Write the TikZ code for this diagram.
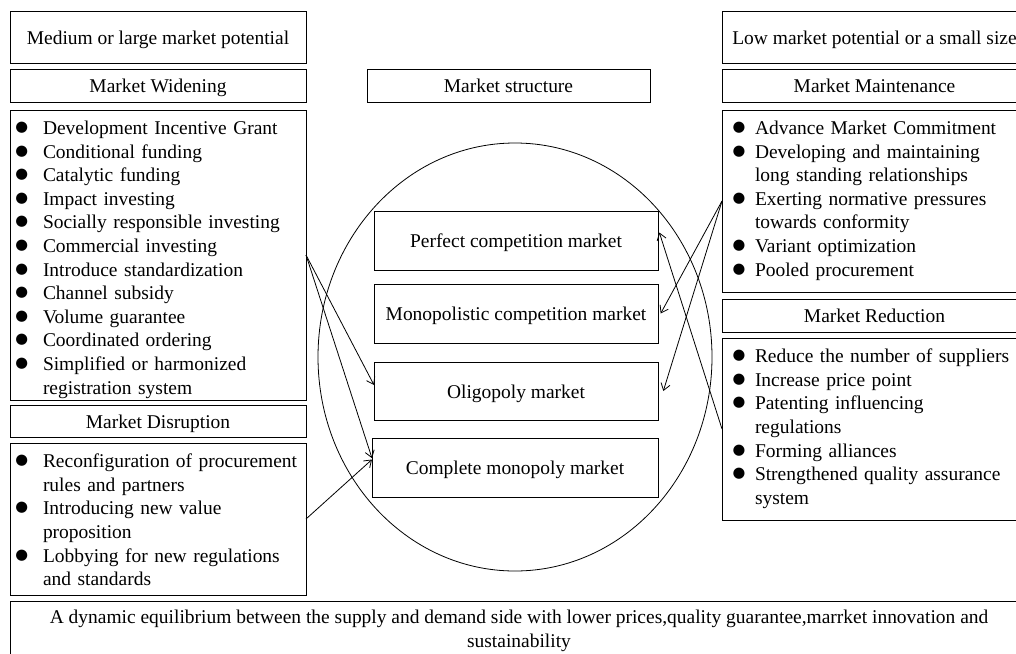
\documentclass[tikz,border=0pt]{standalone}
\usepackage{fontspec}
\setmainfont{Liberation Serif}
\newfontfamily\symfont{DejaVu Sans}
\usetikzlibrary{arrows.meta,shapes.geometric}
\newlength\bulletoff
\setlength\bulletoff{4.5pt}
\newcommand\bitem[1]{\noindent\hangindent=24.75pt\hangafter=1\makebox[24.75pt][l]{\hspace{\bulletoff}\raisebox{2.3pt}{\symfont\fontsize{11}{11}\selectfont ●}}#1\par}
\newcommand\hstrut{\vrule height 13.7pt depth 3.2pt width 0pt}
\tikzset{
  every node/.style={font=\fontsize{14.6}{17.7}\selectfont, text=black},
  bx/.style 2 args={draw, line width=0.6pt, anchor=north west, minimum width=#1*0.75pt, minimum height=#2*0.75pt, inner sep=0pt, outer sep=0pt, align=center},
  lst/.style={anchor=north west, inner sep=0pt, outer sep=0pt, text width=#1*0.75pt, align=left},
  arr/.style={draw, line width=0.6pt, -{Straight Barb[length=5pt,width=7pt]}}
}
\begin{document}
\begin{tikzpicture}[x=0.75pt,y=-0.75pt]
\useasboundingbox (0,0) rectangle (1016,653);
\clip (0,0) rectangle (1016,653);
% header boxes
\node[bx={296}{52}] (tl) at (10,11) {\hstrut Medium or large market potential};
\node[bx={305}{52}] (tr) at (722,11) {\hstrut Low market potential or a small size};
\node[bx={296}{33}] (mw) at (10,69) {\hstrut Market Widening};
\node[bx={283}{33}] (ms) at (367,69) {\hstrut Market structure};
\node[bx={305}{33}] (mm) at (722,69) {\hstrut Market Maintenance};
% lists
\node[bx={296}{290}] (wl) at (10,110) {};
\node[lst=290] (wlt) at (10,121) {%
\setlength\bulletoff{4pt}%
\bitem{Development Incentive Grant}
\bitem{Conditional funding}
\bitem{Catalytic funding}
\bitem{Impact investing}
\bitem{Socially responsible investing}
\bitem{Commercial investing}
\bitem{Introduce standardization}
\bitem{Channel subsidy}
\bitem{Volume guarantee}
\bitem{Coordinated ordering}
\bitem{Simplified or harmonized\newline registration system}};
\node[bx={296}{32}] (md) at (10,405) {\hstrut Market Disruption};
\node[bx={296}{152}] (dl) at (10,443) {};
\node[lst=290] (dlt) at (10,454) {%
\setlength\bulletoff{4pt}%
\bitem{Reconfiguration of procurement\newline rules and partners}
\bitem{Introducing new value\newline proposition}
\bitem{Lobbying for new regulations\newline and standards}};
\node[bx={305}{182}] (ml) at (722,110) {};
\node[lst=300] (mlt) at (722,121) {%
\setlength\bulletoff{8pt}%
\bitem{Advance Market Commitment}
\bitem{Developing and maintaining\newline long standing relationships}
\bitem{Exerting normative pressures\newline towards conformity}
\bitem{Variant optimization}
\bitem{Pooled procurement}};
\node[bx={305}{33}] (mr) at (722,299) {\hstrut Market Reduction};
\node[bx={305}{182}] (rl) at (722,338) {};
\node[lst=300] (rlt) at (722,349) {%
\setlength\bulletoff{8pt}%
\bitem{Reduce the number of suppliers}
\bitem{Increase price point}
\bitem{Patenting influencing\newline regulations}
\bitem{Forming alliances}
\bitem{Strengthened quality assurance\newline system}};
% bottom
\node[bx={1017}{60}, anchor=north west] (bt) at (10,601) {};
\node[align=center, inner sep=0pt] (btt) at (519,631) {A dynamic equilibrium between the supply and demand side with lower prices,quality guarantee,marrket innovation and\\ sustainability};
% ellipse and market types
\node[draw, ellipse, line width=0.6pt, minimum width=394*0.75pt, minimum height=428*0.75pt, inner sep=0pt] (el) at (515,357) {};
\node[bx={284}{59}] (pc) at (374,211) {\hstrut Perfect competition market};
\node[bx={284}{59}] (mc) at (374,284) {\hstrut Monopolistic competition market};
\node[bx={284}{58}] (ol) at (374,362) {\hstrut Oligopoly market};
\node[bx={286}{59}] (cm) at (372,438) {\hstrut Complete monopoly market};
% arrows
\draw[arr] (wl.east) -- ([yshift=4.5pt]ol.west);
\draw[arr] (wl.east) -- ([yshift=7pt]cm.west);
\draw[arr] (dl.east) -- ([yshift=6pt]cm.west);
\draw[arr] (ml.west) -- ([xshift=2pt]mc.east);
\draw[arr] (ml.west) -- ([xshift=4pt]ol.east);
\draw[arr] (rl.west) -- ([xshift=1pt,yshift=6pt]pc.east);
\end{tikzpicture}
\end{document}
